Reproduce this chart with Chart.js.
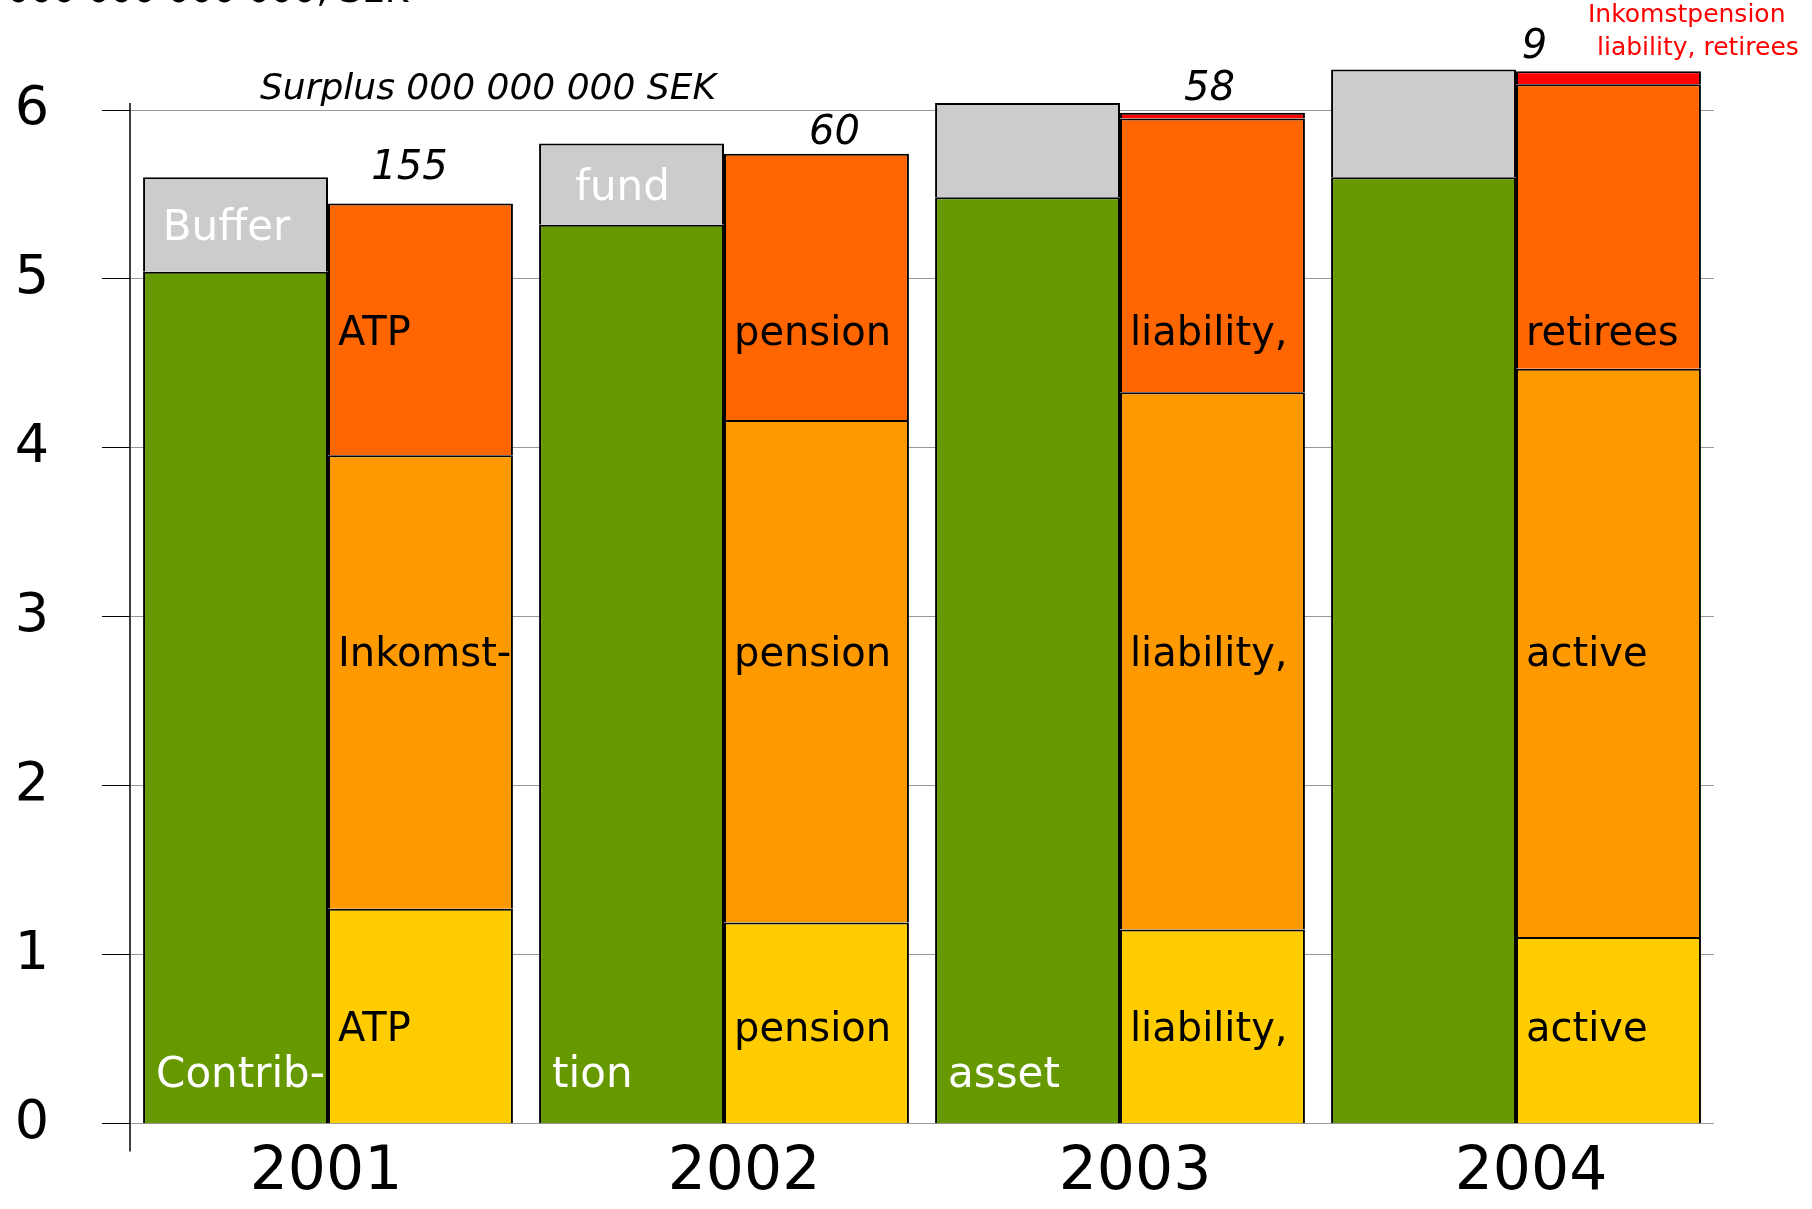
<!DOCTYPE html>
<html lang="en">
<head>
<meta charset="utf-8">
<title>Assets and liabilities</title>
<script src="https://cdn.jsdelivr.net/npm/chart.js@4.4.1/dist/chart.umd.min.js"></script>
<style>
    html, body { margin: 0; padding: 0; background: #fff; }
</style>
</head>
<body>
<canvas id="chart" width="1812" height="1209"></canvas>
<script>
/**
 * Balance sheet per year, 000 000 000 000 SEK.
 */
const YEARS = ['2001', '2002', '2003', '2004'];
const CONTRIBUTION_ASSET = [5.042, 5.321, 5.484, 5.602];
const BUFFER_FUND = [0.560, 0.480, 0.558, 0.637];
const ATP_ACTIVE = [1.272, 1.191, 1.149, 1.104];
const INKOMST_ACTIVE = [2.684, 2.974, 3.180, 3.365];
const ATP_RETIREES = [1.491, 1.576, 1.621, 1.684];
const INKOMST_RETIREES = [0, 0, 0.034, 0.077];
const SURPLUS = [155, 60, 58, 9];

/**
 * Series names are written word by word across the bars.
 */
const BUFFER_WORDS = ['Buffer', 'fund', '', ''];
const CONTRIBUTION_WORDS = ['Contrib-', 'tion', 'asset', ''];
const LIABILITY_WORDS = [
    ['ATP', 'pension', 'liability,', 'retirees'],
    ['Inkomst-', 'pension', 'liability,', 'active'],
    ['ATP', 'pension', 'liability,', 'active']
];

/**
 * Layout constants for the hand placed texts.
 */
const FONT = "'DejaVu Sans', sans-serif";
const WORD_ROWS = [4.67, 2.77, 0.55];
const CONTRIBUTION_ROW = 0.28;
const SURPLUS_SHIFT_X = [-11, 18, -3, -74];
const SURPLUS_SHIFT_Y = [35, 20, 23, 24];
const YEAR_SHIFT_X = [-2, 20, 15, 15];

const makeBar = (label, data, color, stack) => ({
    label,
    data,
    stack,
    backgroundColor: color,
    borderColor: '#000',
    borderWidth: 2,
    clip: false,
    categoryPercentage: 0.934,
    barPercentage: 1.0
});

/**
 * Texts inside and above the bars, year labels and the long y axis line.
 */
const barTexts = {
    id: 'barTexts',
    afterDatasetsDraw(chart) {
        const ctx = chart.ctx;
        const xScale = chart.scales.x;
        const yScale = chart.scales.y;
        const area = chart.chartArea;
        const green = chart.getDatasetMeta(0).data;
        const grey = chart.getDatasetMeta(1).data;
        const liability = [4, 3, 2].map((i) => chart.getDatasetMeta(i).data);
        const red = chart.getDatasetMeta(5).data;

        ctx.save();

        ctx.strokeStyle = '#000';
        ctx.lineWidth = 1.5;
        ctx.beginPath();
        ctx.moveTo(area.left, area.top - 7);
        ctx.lineTo(area.left, area.bottom + 28);
        ctx.stroke();

        ctx.textBaseline = 'middle';

        YEARS.forEach((year, i) => {
            const g = grey[i];
            const c = green[i];
            ctx.fillStyle = '#fff';
            ctx.font = `42px ${FONT}`;
            if (BUFFER_WORDS[i]) {
                ctx.textAlign = 'center';
                ctx.fillText(BUFFER_WORDS[i], g.x - 9, (g.y + g.base) / 2 + 5);
            }
            if (CONTRIBUTION_WORDS[i]) {
                ctx.textAlign = 'left';
                ctx.fillText(CONTRIBUTION_WORDS[i], c.x - c.width / 2 + 13, yScale.getPixelForValue(CONTRIBUTION_ROW));
            }

            ctx.fillStyle = '#000';
            ctx.font = `40px ${FONT}`;
            ctx.textAlign = 'left';
            LIABILITY_WORDS.forEach((words, row) => {
                const bar = liability[row][i];
                ctx.fillText(words[i], bar.x - bar.width / 2 + 10, yScale.getPixelForValue(WORD_ROWS[row]));
            });

            const top = red[i];
            ctx.font = `italic 40px ${FONT}`;
            ctx.textAlign = 'center';
            ctx.fillText(String(SURPLUS[i]), top.x + SURPLUS_SHIFT_X[i], top.y - SURPLUS_SHIFT_Y[i]);

            ctx.font = `60px ${FONT}`;
            ctx.fillText(year, xScale.getPixelForValue(i) + YEAR_SHIFT_X[i], area.bottom + 50);
        });

        ctx.font = `italic 36px ${FONT}`;
        ctx.textAlign = 'left';
        ctx.fillText('Surplus 000 000 000 SEK', 260, 90);

        ctx.fillStyle = '#ff0000';
        ctx.font = `25px ${FONT}`;
        ctx.fillText('Inkomstpension', 1588, 15);
        ctx.fillText('liability, retirees', 1597, 48);

        ctx.fillStyle = '#000';
        ctx.font = `36px ${FONT}`;
        ctx.textBaseline = 'alphabetic';
        ctx.fillText('000 000 000 000, SEK', 7, 2);

        ctx.restore();
    }
};

const onDOMLoaded = () => {
    const CHART = document.getElementById('chart').getContext('2d');

    new Chart(CHART, {
        type: 'bar',
        data: {
            labels: YEARS,
            datasets: [
                makeBar('Contribution asset', CONTRIBUTION_ASSET, '#669900', 'assets'),
                makeBar('Buffer fund', BUFFER_FUND, '#cccccc', 'assets'),
                makeBar('ATP pension liability, active', ATP_ACTIVE, '#ffcc00', 'liabilities'),
                makeBar('Inkomstpension liability, active', INKOMST_ACTIVE, '#ff9900', 'liabilities'),
                makeBar('ATP pension liability, retirees', ATP_RETIREES, '#ff6600', 'liabilities'),
                makeBar('Inkomstpension liability, retirees', INKOMST_RETIREES, '#ff0000', 'liabilities')
            ]
        },
        options: {
            responsive: false,
            animation: false,
            devicePixelRatio: 1,
            layout: { padding: { top: 110, right: 98, bottom: 72.5, left: 0 } },
            plugins: {
                legend: { display: false },
                tooltip: { enabled: false }
            },
            scales: {
                x: {
                    stacked: true,
                    grid: { display: false, drawTicks: false },
                    border: { display: false },
                    ticks: { display: false }
                },
                y: {
                    stacked: true,
                    min: 0,
                    max: 6,
                    ticks: { stepSize: 1, color: '#000', font: { family: FONT, size: 54 }, padding: 53 },
                    grid: { color: '#999', tickColor: '#000', tickLength: 28, lineWidth: 1 },
                    border: { display: false },
                    afterFit: (scale) => { scale.width = 130; }
                }
            }
        },
        plugins: [barTexts]
    });
};

document.addEventListener('DOMContentLoaded', onDOMLoaded);
</script>
</body>
</html>
